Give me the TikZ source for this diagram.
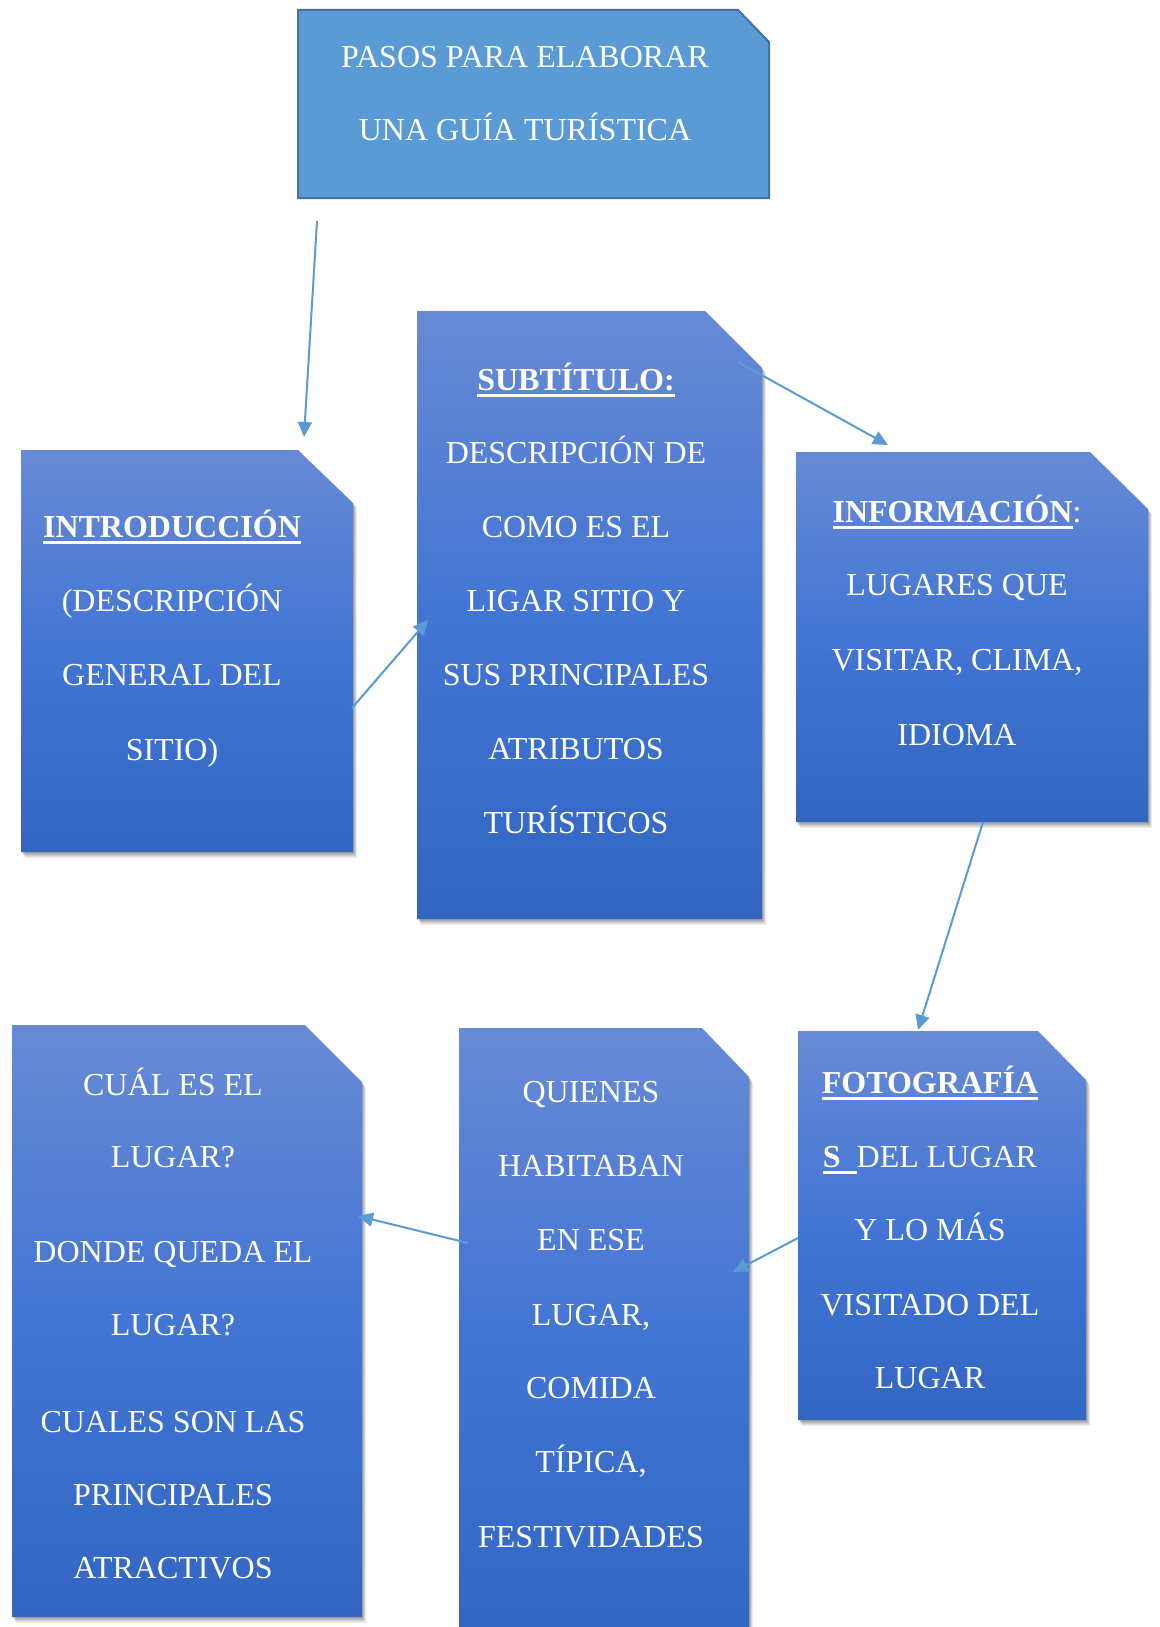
\documentclass[tikz,border=0pt]{standalone}
\usepackage{fontspec}
\setmainfont{Liberation Serif}
\usetikzlibrary{arrows.meta,shadows,calc}
\definecolor{arrowc}{RGB}{91,155,213}
\definecolor{topfill}{RGB}{91,155,213}
\definecolor{topborder}{RGB}{65,113,156}
\definecolor{gtop}{RGB}{104,138,213}
\definecolor{gmid}{RGB}{66,117,212}
\definecolor{gbot}{RGB}{50,102,194}
\newcommand\ulbox[1]{\setbox0\hbox{#1}\rlap{\rule[-6pt]{\wd0}{2.5pt}}\box0}
\newcommand\cutbox[7]{% name, x1, y1, x2, y2, cut w, cut h
  \node[frame, minimum width={#4pt-#2pt}, minimum height={#5pt-#3pt}] (#1) at ({(#2+#4)/2},{(#3+#5)/2}) {};
  \path[gbox] (#1.north west) -- ($(#1.north east)+(-#6,0)$) -- ($(#1.north east)+(0,#7)$) -- (#1.south east) -- (#1.south west) -- cycle;
}
\begin{document}
\begin{tikzpicture}[x=1pt,y=-1pt,
  frame/.style={inner sep=0pt, outer sep=0pt},
  gbox/.style={top color=gtop, bottom color=gbot, middle color=gmid, draw=none,
    drop shadow={shadow xshift=4pt,shadow yshift=-6pt,opacity=0.07,fill=black},
    drop shadow={shadow xshift=3pt,shadow yshift=-4.5pt,opacity=0.1,fill=black},
    drop shadow={shadow xshift=2pt,shadow yshift=-3pt,opacity=0.12,fill=black},
    drop shadow={shadow xshift=1pt,shadow yshift=-1.5pt,opacity=0.12,fill=black}},
  ln/.style={anchor=base, yshift=-10.6pt, inner sep=0pt, text=white, font=\fontsize{32}{38}\selectfont},
  conn/.style={draw=arrowc, line width=2pt, -{Triangle[length=15pt,width=14pt]}}
]
\useasboundingbox[fill=white] (0,0) rectangle (1159,1627);

% title box
\node[frame, minimum width=471pt, minimum height=188pt] (title) at (533.5,104) {};
\path[fill=topfill, draw=topborder, line width=2pt] (title.north west) -- ($(title.north east)+(-31,0)$) -- ($(title.north east)+(0,32)$) -- (title.south east) -- (title.south west) -- cycle;
\node[ln] (title1) at (525,57) {PASOS PARA ELABORAR};
\node[ln] (title2) at (525,130) {UNA GUÍA TURÍSTICA};

% gradient boxes
\cutbox{intro}{21}{450}{353}{852}{55}{53}
\cutbox{subt}{417}{311}{762}{919}{57}{57}
\cutbox{info}{796}{452}{1148}{822}{58}{57}
\cutbox{foto}{798}{1031}{1086}{1420}{48}{49}
\cutbox{quien}{459}{1028}{749}{1640}{47}{49}
\cutbox{cual}{12}{1025}{362}{1617}{57}{57}

% intro text
\node[ln] (intro1) at (172,527) {\ulbox{\textbf{INTRODUCCIÓN}}};
\node[ln] (intro2) at (172,601) {(DESCRIPCIÓN};
\node[ln] (intro3) at (172,675) {GENERAL DEL};
\node[ln] (intro4) at (172,750) {SITIO)};

% subtitle text
\node[ln] (subt1) at (576,380) {\ulbox{\textbf{SUBTÍTULO:}}};
\node[ln] (subt2) at (576,453) {DESCRIPCIÓN DE};
\node[ln] (subt3) at (576,527) {COMO ES EL};
\node[ln] (subt4) at (576,601) {LIGAR SITIO Y};
\node[ln] (subt5) at (576,675) {SUS PRINCIPALES};
\node[ln] (subt6) at (576,749) {ATRIBUTOS};
\node[ln] (subt7) at (576,823) {TURÍSTICOS};

% info text
\node[ln] (info1) at (957,512) {\ulbox{\textbf{INFORMACIÓN}}:};
\node[ln] (info2) at (957,585) {LUGARES QUE};
\node[ln] (info3) at (957,660) {VISITAR, CLIMA,};
\node[ln] (info4) at (957,735) {IDIOMA};

% foto text
\node[ln] (foto1) at (930,1083) {\ulbox{\textbf{FOTOGRAFÍA}}};
\node[ln] (foto2) at (930,1157) {\ulbox{\textbf{S}\hspace{16pt}}DEL LUGAR};
\node[ln] (foto3) at (930,1230) {Y LO MÁS};
\node[ln] (foto4) at (930,1305) {VISITADO DEL};
\node[ln] (foto5) at (930,1378) {LUGAR};

% quienes text
\node[ln] (quien1) at (591,1092) {QUIENES};
\node[ln] (quien2) at (591,1166) {HABITABAN};
\node[ln] (quien3) at (591,1240) {EN ESE};
\node[ln] (quien4) at (591,1315) {LUGAR,};
\node[ln] (quien5) at (591,1388) {COMIDA};
\node[ln] (quien6) at (591,1462) {TÍPICA,};
\node[ln] (quien7) at (591,1537) {FESTIVIDADES};

% cual text
\node[ln] (cual1) at (173,1085) {CUÁL ES EL};
\node[ln] (cual2) at (173,1157) {LUGAR?};
\node[ln] (cual3) at (173,1252) {DONDE QUEDA EL};
\node[ln] (cual4) at (173,1325) {LUGAR?};
\node[ln] (cual5) at (173,1422) {CUALES SON LAS};
\node[ln] (cual6) at (173,1495) {PRINCIPALES};
\node[ln] (cual7) at (173,1568) {ATRACTIVOS};

% connector end points
\coordinate (a1s) at (317,221);
\coordinate (a1e) at (304,437);
\coordinate (a2s) at (352,708);
\coordinate (a2e) at (428,620);
\coordinate (a3s) at (738,362);
\coordinate (a3e) at (888,445);
\coordinate (a4s) at (983,822);
\coordinate (a4e) at (918,1030);
\coordinate (a5s) at (798,1238);
\coordinate (a5e) at (733,1272);
\coordinate (a6s) at (468,1243);
\coordinate (a6e) at (358,1216);

\draw[conn] (a1s) -- (a1e);
\draw[conn] (a2s) -- (a2e);
\draw[conn] (a3s) -- (a3e);
\draw[conn] (a4s) -- (a4e);
\draw[conn] (a5s) -- (a5e);
\draw[conn] (a6s) -- (a6e);
\end{tikzpicture}
\end{document}
